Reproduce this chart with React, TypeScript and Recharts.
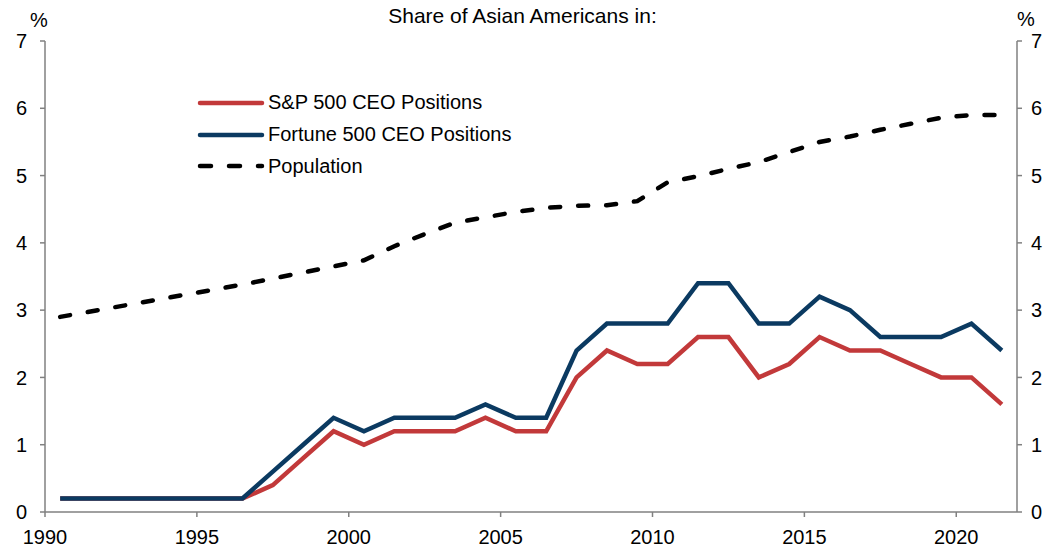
import React from 'react'
import { LineChart, Line, XAxis, YAxis, Legend } from 'recharts'

const years = [
  1990, 1991, 1992, 1993, 1994, 1995, 1996, 1997, 1998, 1999, 2000, 2001, 2002, 2003, 2004, 2005,
  2006, 2007, 2008, 2009, 2010, 2011, 2012, 2013, 2014, 2015, 2016, 2017, 2018, 2019, 2020, 2021,
]
const sp500 = [
  0.2, 0.2, 0.2, 0.2, 0.2, 0.2, 0.2, 0.4, 0.8, 1.2, 1.0, 1.2, 1.2, 1.2, 1.4, 1.2,
  1.2, 2.0, 2.4, 2.2, 2.2, 2.6, 2.6, 2.0, 2.2, 2.6, 2.4, 2.4, 2.2, 2.0, 2.0, 1.6,
]
const fortune500 = [
  0.2, 0.2, 0.2, 0.2, 0.2, 0.2, 0.2, 0.6, 1.0, 1.4, 1.2, 1.4, 1.4, 1.4, 1.6, 1.4,
  1.4, 2.4, 2.8, 2.8, 2.8, 3.4, 3.4, 2.8, 2.8, 3.2, 3.0, 2.6, 2.6, 2.6, 2.8, 2.4,
]
const population = [
  2.9, 2.98, 3.06, 3.14, 3.22, 3.3, 3.38, 3.47, 3.56, 3.65, 3.74, 3.95, 4.13, 4.3, 4.38, 4.46,
  4.52, 4.55, 4.56, 4.62, 4.9, 4.99, 5.1, 5.2, 5.35, 5.5, 5.58, 5.68, 5.77, 5.86, 5.9, 5.9,
]
const xTicks = [1990, 1995, 2000, 2005, 2010, 2015, 2020]
const yTicks = [0, 1, 2, 3, 4, 5, 6, 7]

const RED = '#C2393A'
const NAVY = '#0B3A61'
const AXIS = '#808080'
const FONT = '"Liberation Sans", Arial, sans-serif'

// values are annual, plotted at mid-year
const data = years.map((y, i) => ({
  x: y + 0.5,
  sp: sp500[i],
  fortune: fortune500[i],
  pop: population[i],
}))

const legendItems = [
  { label: 'S&P 500 CEO Positions', color: RED, dash: undefined },
  { label: 'Fortune 500 CEO Positions', color: NAVY, dash: undefined },
  { label: 'Population', color: '#000', dash: '11 18' },
]

function LegendBox() {
  return (
    <div style={{ fontFamily: FONT, fontSize: 20, color: '#000', whiteSpace: 'nowrap' }}>
      {legendItems.map((it) => (
        <div key={it.label} style={{ display: 'flex', alignItems: 'center', height: 31.7 }}>
          <svg width={72} height={10}>
            <line
              x1={4}
              y1={5}
              x2={66}
              y2={5}
              stroke={it.color}
              strokeWidth={4.5}
              strokeDasharray={it.dash}
              strokeLinecap="round"
            />
          </svg>
          <span>{it.label}</span>
        </div>
      ))}
    </div>
  )
}

export default function App() {
  const tickStyle = { fontFamily: FONT, fontSize: 20, fill: '#000' }
  return (
    <div style={{ position: 'absolute', left: 0, top: 0, width: 1057, height: 550, background: '#fff' }}>
      <div
        style={{
          position: 'absolute',
          left: 0,
          width: 1045,
          top: 4,
          textAlign: 'center',
          fontFamily: FONT,
          fontSize: 21,
        }}
      >
        Share of Asian Americans in:
      </div>
      <div style={{ position: 'absolute', left: 30, top: 9, fontFamily: FONT, fontSize: 20 }}>%</div>
      <div style={{ position: 'absolute', left: 1017, top: 8, fontFamily: FONT, fontSize: 20 }}>%</div>
      <LineChart width={1057} height={550} data={data} margin={{ top: 41, right: 0, bottom: 0, left: 0 }}>
        <XAxis
          dataKey="x"
          type="number"
          domain={[1990, 2022]}
          ticks={xTicks}
          allowDataOverflow
          height={38}
          stroke={AXIS}
          strokeWidth={1.5}
          tickSize={5}
          tickMargin={13}
          tick={tickStyle}
          interval={0}
        />
        <YAxis
          yAxisId="left"
          domain={[0, 7]}
          ticks={yTicks}
          width={45}
          stroke={AXIS}
          strokeWidth={1.5}
          tickSize={5}
          tickMargin={13}
          tick={tickStyle}
          interval={0}
        />
        <YAxis
          yAxisId="right"
          orientation="right"
          domain={[0, 7]}
          ticks={yTicks}
          width={40}
          stroke={AXIS}
          strokeWidth={1.5}
          tickSize={5}
          tickMargin={9}
          tick={tickStyle}
          interval={0}
        />
        <Legend
          content={<LegendBox />}
          layout="vertical"
          align="center"
          verticalAlign="middle"
          wrapperStyle={{ position: 'absolute', left: 196, top: 87, width: 'auto' }}
        />
        <Line
          yAxisId="left"
          dataKey="sp"
          stroke={RED}
          strokeWidth={4.5}
          dot={false}
          isAnimationActive={false}
          strokeLinejoin="miter"
        />
        <Line
          yAxisId="left"
          dataKey="fortune"
          stroke={NAVY}
          strokeWidth={4.5}
          dot={false}
          isAnimationActive={false}
          strokeLinejoin="miter"
        />
        <Line
          yAxisId="right"
          dataKey="pop"
          stroke="#000"
          strokeWidth={4.5}
          strokeDasharray="10 18"
          strokeLinecap="round"
          dot={false}
          isAnimationActive={false}
        />
      </LineChart>
    </div>
  )
}
